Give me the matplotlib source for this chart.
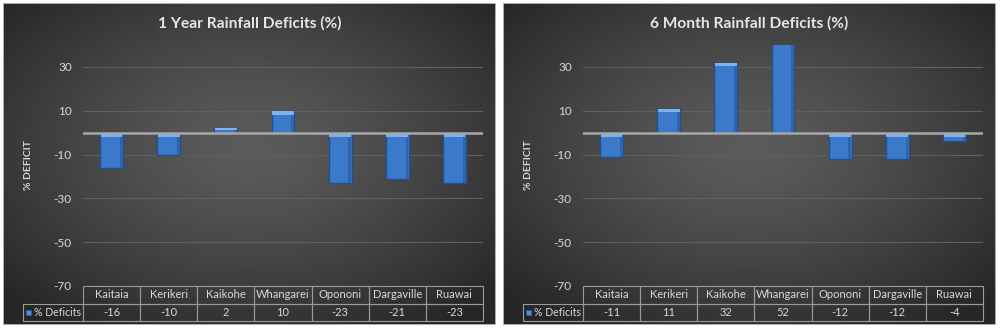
import numpy as np
import matplotlib
matplotlib.use("Agg")
import matplotlib.pyplot as plt
from matplotlib.patches import Rectangle

cities = ["Kaitaia", "Kerikeri", "Kaikohe", "Whangarei", "Opononi", "Dargaville", "Ruawai"]
year_deficit = [-16, -10, 2, 10, -23, -21, -23]
six_month_deficit = [-11, 11, 32, 52, -12, -12, -4]
titles = ["1 Year Rainfall Deficits (%)", "6 Month Rainfall Deficits (%)"]
series_name = "% Deficits"
y_ticks = [-70, -50, -30, -10, 10, 30]

plt.rcParams["font.family"] = ["Lato", "DejaVu Sans"]

W, H = 1000, 330
fig = plt.figure(figsize=(10, 3.3), dpi=100, facecolor="white")

def fx(px):
    return px / W

def fy(px):
    return 1 - px / H

# radial dark gradient used as the chart background
gy, gx = np.mgrid[-1:1:200j, -1:1:400j]
r = np.clip(np.sqrt(gx ** 2 + (gy + 0.1) ** 2) / 1.35, 0, 1)
shade = 0.36 - (0.36 - 0.15) * r ** 1.3

text_col = "#d9d9d9"
bar_col = "#3b7acb"
bar_edge = "#22508f"
cap_col = "#7db2ee"

panels = [(3, titles[0], year_deficit), (503, titles[1], six_month_deficit)]

for left, title, values in panels:
    # background panel
    bg = fig.add_axes([fx(left), fy(325), fx(493), 322 / H])
    bg.imshow(shade, cmap="gray", vmin=0, vmax=1, aspect="auto",
              extent=[0, 1, 0, 1], interpolation="bilinear")
    bg.add_patch(Rectangle((0, 0), 1, 1, transform=bg.transAxes, fill=False,
                           edgecolor="#c8c8c8", lw=1.2))
    bg.set_axis_off()
    bg.text(0.5, 1 - 20 / 322, title, transform=bg.transAxes, ha="center",
            va="center", color="#e6e6e6", fontsize=11.2, fontweight="bold")

    ax = fig.add_axes([fx(left + 80), fy(286), fx(400), 241 / H])
    ax.set_facecolor("none")
    x = np.arange(len(cities))
    ax.set_xlim(-0.5, len(cities) - 0.5)
    ax.set_ylim(-70, 40)
    ax.set_yticks(y_ticks)
    ax.set_yticklabels([str(t) for t in y_ticks])
    ax.set_xticks([])
    ax.tick_params(axis="y", length=0, pad=8, labelsize=8.5, labelcolor=text_col)
    for s in ax.spines.values():
        s.set_visible(False)
    ax.yaxis.grid(True, color="#606060", lw=0.8)
    ax.set_axisbelow(True)

    # bars with a bevelled top highlight and a darker right side
    vals = np.array(values, dtype=float)
    ax.bar(x, vals, width=0.4, color=bar_col, edgecolor=bar_edge, lw=1.0, zorder=2)
    ax.bar(x + 0.17, vals, width=0.05, color="#2f64aa", lw=0, zorder=2.5)
    tops = np.maximum(vals, 0)
    cap = np.minimum(1.8, np.abs(vals) * 0.5)
    ax.bar(x, cap, bottom=tops - cap, width=0.38, color=cap_col, lw=0, zorder=3)
    ax.axhline(0, color="#a8a8a8", lw=1.8, zorder=4)

    ax.set_ylabel("% DEFICIT", color=text_col, fontsize=7.5, fontweight="bold")
    ax.yaxis.set_label_coords(-50 / 400, 0.5)

    # data table under the plot
    legend_w = 60
    col_w = [legend_w / 400] + [1 / len(cities)] * len(cities)
    cell_text = [[""] + cities, [series_name] + [str(v) for v in values]]
    tbl = ax.table(cellText=cell_text, colWidths=col_w, cellLoc="center",
                   bbox=[-legend_w / 400, -35 / 241, 1 + legend_w / 400, 35 / 241])
    tbl.auto_set_font_size(False)
    tbl.set_fontsize(8)
    for (row, col), cell in tbl.get_celld().items():
        cell.set_facecolor("none")
        cell.set_edgecolor("#9a9a9a")
        cell.set_linewidth(0.8)
        cell.get_text().set_color(text_col)
        if row == 0 and col == 0:
            cell.visible_edges = ""
        if row == 1 and col == 0:
            cell.get_text().set_ha("right")
            cell.get_text().set_fontsize(7.6)
            cell.PAD = 0.03
    # legend key in front of the series name
    ax.add_patch(Rectangle((-57 / 400, -(315 - 286) / 241), 5 / 400, 5 / 241,
                           transform=ax.transAxes, clip_on=False,
                           facecolor="#4a8ee0", edgecolor="#2a5c9c", lw=0.6))

fig.savefig("out.png", dpi=100, facecolor="white")
